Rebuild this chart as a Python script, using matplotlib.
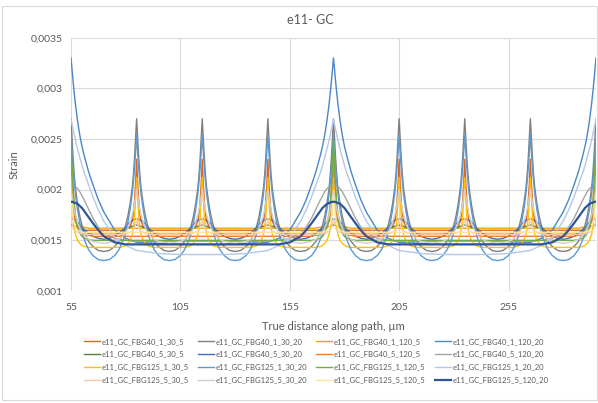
#!/usr/bin/python

"""
e11 strain along the path for the GC models, all 16 runs on one chart.
"""

import numpy as np
import matplotlib
matplotlib.use("Agg")
import matplotlib.pyplot as plt
from matplotlib.patches import Rectangle
from matplotlib.ticker import FuncFormatter

plt.rcParams['font.family'] = ['Lato', 'DejaVu Sans']

x_start = 55
x_end = 295

names = [
  "e11_GC_FBG40_1_30_5", "e11_GC_FBG40_1_30_20", "e11_GC_FBG40_1_120_5", "e11_GC_FBG40_1_120_20",
  "e11_GC_FBG40_5_30_5", "e11_GC_FBG40_5_30_20", "e11_GC_FBG40_5_120_5", "e11_GC_FBG40_5_120_20",
  "e11_GC_FBG125_1_30_5", "e11_GC_FBG125_1_30_20", "e11_GC_FBG125_1_120_5", "e11_GC_FBG125_1_20_20",
  "e11_GC_FBG125_5_30_5", "e11_GC_FBG125_5_30_20", "e11_GC_FBG125_5_120_5", "e11_GC_FBG125_5_120_20",
]
periods = [30, 30, 120, 120, 30, 30, 120, 120, 30, 30, 120, 120, 30, 30, 120, 120]

# distance from a peak, half a period
d30 = [0, 0.5, 1, 1.5, 2, 3, 4, 5, 6, 8, 10, 12.5, 15]
d120 = [0, 0.5, 1, 1.5, 2, 3, 4, 5, 6, 8, 10, 12.5, 15, 20, 25, 30, 40, 50, 60]

# strain vs distance from peak, one half period per run
fbg40_1_30_5 = [0.00230, 0.00205, 0.00188, 0.00176, 0.00169, 0.00164, 0.00162, 0.00161, 0.00160, 0.00160, 0.00160, 0.00160, 0.00160]
fbg40_1_30_20 = [0.00270, 0.00250, 0.00230, 0.00214, 0.00202, 0.00186, 0.00174, 0.00165, 0.00158, 0.00149, 0.00144, 0.00140, 0.00139]
fbg40_1_120_5 = [0.00250, 0.00222, 0.00200, 0.00186, 0.00176, 0.00168, 0.00165, 0.00163, 0.00163, 0.00162, 0.00162, 0.00162, 0.00162,
                 0.00162, 0.00162, 0.00162, 0.00162, 0.00162, 0.00162]
fbg40_1_120_20 = [0.00330, 0.00318, 0.00306, 0.00295, 0.00285, 0.00268, 0.00254, 0.00243, 0.00234, 0.00218, 0.00205, 0.00190, 0.00178,
                  0.00160, 0.00152, 0.00148, 0.00147, 0.00146, 0.00146]
fbg40_5_30_5 = [0.00165, 0.00165, 0.00165, 0.00164, 0.00164, 0.00163, 0.00162, 0.00160, 0.00159, 0.00157, 0.00156, 0.00156, 0.00156]
fbg40_5_30_20 = [0.00171, 0.00171, 0.00171, 0.00170, 0.00170, 0.00168, 0.00166, 0.00163, 0.00161, 0.00157, 0.00154, 0.00152, 0.00151]
fbg40_5_120_5 = [0.00230, 0.00205, 0.00188, 0.00177, 0.00170, 0.00163, 0.00159, 0.00157, 0.00156, 0.00155, 0.00154, 0.00154, 0.00154,
                 0.00154, 0.00154, 0.00154, 0.00154, 0.00154, 0.00154]
fbg40_5_120_20 = [0.00205, 0.00205, 0.00204, 0.00204, 0.00203, 0.00201, 0.00198, 0.00194, 0.00190, 0.00181, 0.00172, 0.00163, 0.00157,
                  0.00152, 0.00150, 0.00149, 0.00149, 0.00149, 0.00149]
fbg125_1_30_5 = [0.00212, 0.00190, 0.00172, 0.00162, 0.00156, 0.00150, 0.00147, 0.00145, 0.00144, 0.00143, 0.00143, 0.00143, 0.00143]
fbg125_1_30_20 = [0.00254, 0.00236, 0.00220, 0.00207, 0.00196, 0.00180, 0.00168, 0.00158, 0.00151, 0.00141, 0.00135, 0.00131, 0.00130]
fbg125_1_120_5 = [0.00250, 0.00222, 0.00200, 0.00185, 0.00174, 0.00162, 0.00157, 0.00154, 0.00152, 0.00151, 0.00150, 0.00150, 0.00150,
                  0.00150, 0.00150, 0.00150, 0.00150, 0.00150, 0.00150]
fbg125_1_120_20 = [0.00270, 0.00264, 0.00259, 0.00254, 0.00249, 0.00240, 0.00232, 0.00224, 0.00217, 0.00205, 0.00193, 0.00180, 0.00169,
                   0.00153, 0.00145, 0.00140, 0.00137, 0.00136, 0.00136]
fbg125_5_30_5 = [0.00172, 0.00166, 0.00162, 0.00160, 0.00159, 0.00158, 0.00157, 0.00157, 0.00156, 0.00156, 0.00156, 0.00156, 0.00156]
fbg125_5_30_20 = [0.00200, 0.00193, 0.00186, 0.00180, 0.00175, 0.00168, 0.00162, 0.00158, 0.00155, 0.00151, 0.00149, 0.00148, 0.00147]
fbg125_5_120_5 = [0.00195, 0.00182, 0.00172, 0.00166, 0.00163, 0.00160, 0.00159, 0.00158, 0.00158, 0.00158, 0.00158, 0.00158, 0.00158,
                  0.00158, 0.00158, 0.00158, 0.00158, 0.00158, 0.00158]
fbg125_5_120_20 = [0.00188, 0.00188, 0.00188, 0.00187, 0.00187, 0.00186, 0.00184, 0.00182, 0.00179, 0.00173, 0.00167, 0.00160, 0.00154,
                   0.00148, 0.00146, 0.00146, 0.00146, 0.00146, 0.00146]

profiles = [
  fbg40_1_30_5, fbg40_1_30_20, fbg40_1_120_5, fbg40_1_120_20,
  fbg40_5_30_5, fbg40_5_30_20, fbg40_5_120_5, fbg40_5_120_20,
  fbg125_1_30_5, fbg125_1_30_20, fbg125_1_120_5, fbg125_1_120_20,
  fbg125_5_30_5, fbg125_5_30_20, fbg125_5_120_5, fbg125_5_120_20,
]

colors = [
  "#E0651F", "#7F7F7F", "#F2A600", "#4A86C8",
  "#548235", "#3F6CC0", "#ED7D31", "#A5A5A5",
  "#FFC000", "#5B9BD5", "#70AD47", "#B4C7E7",
  "#F8CBAD", "#D0CECE", "#FFE699", "#2F5597",
]


def full_series(prof, period):
  """
  lay the half-period profile out along the whole path
  """
  d = np.array(d30 if period == 30 else d120, dtype=float)
  v = np.array(prof)
  xs = np.concatenate([d, period - d[-2::-1]])
  ys = np.concatenate([v, v[-2::-1]])
  n = int(round((x_end - x_start) / period))
  x = np.concatenate([x_start + k * period + xs[:-1] for k in range(n)] + [[x_end]])
  y = np.concatenate([ys[:-1]] * n + [[ys[-1]]])
  return x, y


def comma(v, pos):
  return f"{v:g}".replace('.', ',')


def main():
  fig = plt.figure(figsize=(5.98, 4.03), dpi=100)
  ax = fig.add_axes([71 / 598, 1 - 291 / 403, 525 / 598, 253.3 / 403])

  handles = []
  for name, prof, per, c in zip(names, profiles, periods, colors):
    x, y = full_series(prof, per)
    lw = 1.6 if c == "#2F5597" else 1.0
    h, = ax.plot(x, y, color=c, lw=lw, label=name)
    handles.append(h)

  ax.set_xlim(x_start, x_end)
  ax.set_ylim(0.001, 0.0035)
  ax.set_xticks([55, 105, 155, 205, 255])
  ax.set_yticks([0.001, 0.0015, 0.002, 0.0025, 0.003, 0.0035])
  ax.yaxis.set_major_formatter(FuncFormatter(comma))
  ax.grid(True, color="#D9D9D9", lw=0.8)
  ax.set_axisbelow(True)
  for s in ax.spines.values():
    s.set_visible(False)
  ax.tick_params(axis="y", length=0, labelsize=7.5, labelcolor="#595959", pad=6)
  ax.tick_params(axis="x", length=0, labelsize=7.5, labelcolor="#595959", pad=9)

  ax.set_xlabel("True distance along path, µm", fontsize=8, color="#595959", labelpad=6)
  ax.set_ylabel("Strain", fontsize=8, color="#595959", labelpad=8)
  fig.text(310 / 598, 1 - 20 / 403, "e11- GC", ha="center", va="center", fontsize=9, color="#595959")

  # excel fills legend row by row
  order = [r * 4 + c for c in range(4) for r in range(4)]
  fig.legend([handles[i] for i in order], [names[i] for i in order],
             ncols=4, loc="upper left", bbox_to_anchor=(84 / 598, 1 - 338 / 403),
             fontsize=5.5, frameon=False, handlelength=2.1, handletextpad=0.2,
             columnspacing=1.2, labelspacing=0.75, borderpad=0, borderaxespad=0,
             labelcolor="#595959")

  fig.patches.append(Rectangle((1.5 / 598, 3 / 403), 595.5 / 598, 394 / 403, transform=fig.transFigure,
                               fill=False, edgecolor="#D9D9D9", lw=0.8))

  fig.savefig("out.png", dpi=100)
  plt.close()


if __name__ == "__main__":
  main()
